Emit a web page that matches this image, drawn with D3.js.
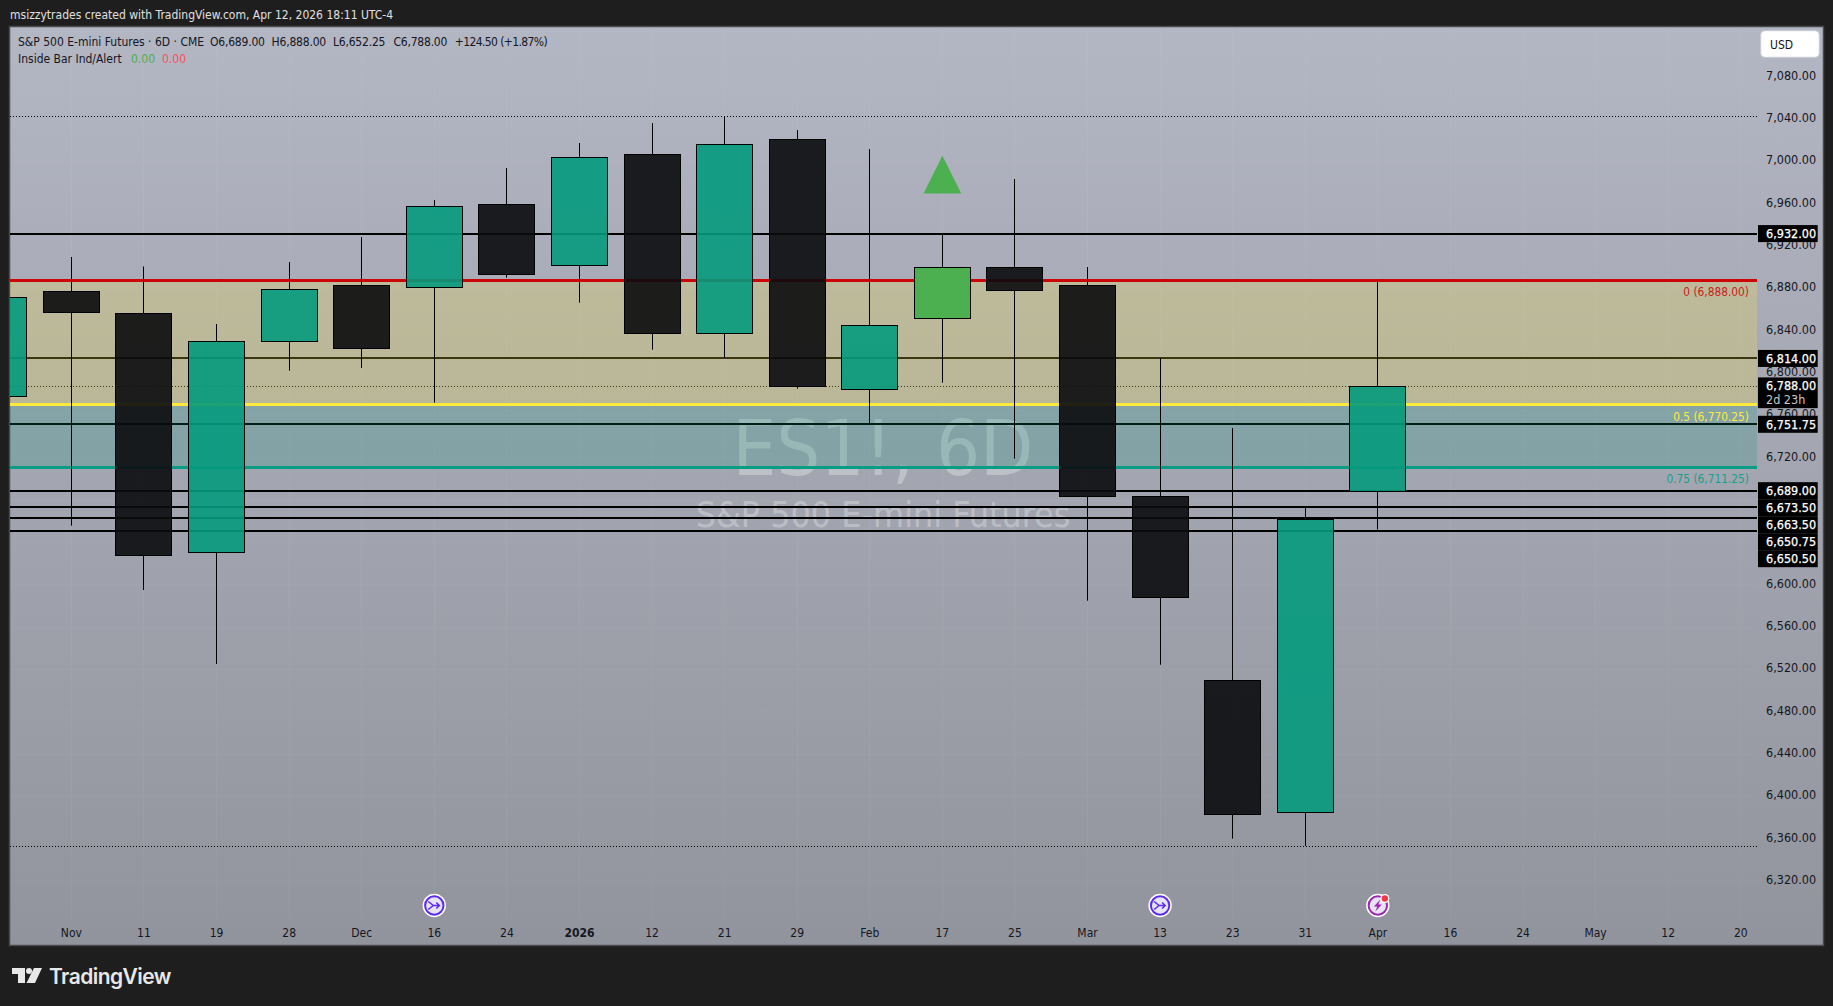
<!DOCTYPE html>
<html><head><meta charset="utf-8">
<script src="https://cdn.jsdelivr.net/npm/d3@7"></script>
<style>
html,body{margin:0;padding:0;background:#1e1e1e;overflow:hidden}
svg{display:block}
text{font-family:"DejaVu Sans Condensed","DejaVu Sans",sans-serif;font-stretch:condensed}
</style></head><body>
<svg id="c" width="1833" height="1006"></svg>
<script>
const barIndex=[-1,0,1,2,3,4,5,6,7,8,9,10,11,12,13,14,15,16,17,18];
const opens =[6778.2,6877.4,6856.7,6630.8,6830.2,6883.1,6881.8,6959.7,6902.0,7006.9,6838.3,7021.4,6785.4,6851.9,6900.1,6883.1,6683.7,6509.8,6385.0,6689.0];
const closes=[6871.8,6857.6,6627.9,6830.2,6879.3,6824.1,6957.8,6893.5,7004.1,6837.7,7016.4,6788.2,6845.3,6900.1,6878.4,6684.3,6588.2,6383.1,6662.5,6788.0];
const highs =[6871.8,6909.9,6900.9,6846.5,6905.1,6928.8,6963.7,6994.0,7017.6,7036.5,7042.9,7029.9,7011.9,6930.9,6983.6,6900.4,6814.4,6748.2,6672.9,6888.0];
const lows  =[6778.2,6655.9,6595.1,6525.2,6802.4,6805.0,6772.2,6890.3,6866.7,6822.2,6814.4,6785.4,6752.3,6791.1,6719.2,6585.0,6524.5,6360.1,6353.2,6652.25];
const insideBarIndex=12;
const signalBase=6970, signalApex=7005.5;
const timeLabels=["Nov","11","19","28","Dec","16","24","2026","12","21","29","Feb","17","25","Mar","13","23","31","Apr","16","24","May","12","20"];
const priceTicks=[7080,7040,7000,6960,6920,6880,6840,6800,6760,6720,6600,6560,6520,6480,6440,6400,6360,6320];
const gridTicks=[7080,7040,7000,6960,6920,6880,6840,6800,6760,6720,6680,6640,6600,6560,6520,6480,6440,6400,6360,6320];
const levels=[6932,6814,6788,6751.75,6689,6673.5,6663.5,6650.75,6650.5];
const solidLevels=[6932,6814,6751.75,6689,6673.5,6663.5,6650.75,6650.5];
const dottedLevels=[7043,6788,6353];
const fibLevels=[6888,6770.25,6711.25];
const fibNames=["0","0.5","0.75"];
const fibColors=["#cc0606","#ffe93b","#0a9c84"];
const fibTextColors=["#c81a1a","#ffe93b","#16a08a"];
const eventBars=[5,15];
const flashBars=[18];
const legendParts=["S&P 500 E-mini Futures · 6D · CME","O6,689.00","H6,888.00","L6,652.25","C6,788.00","+124.50 (+1.87%)"];
const legendX=[18,210,271.6,333,393.4,454.7];

const svg=d3.select("#c");
const L=10,T=27,R=1823,B=945,PR=1757,TA=918;
const y=d3.scaleLinear().domain([7080,6320]).range([77,881.08]);
const x=d3.scaleLinear().domain([0,23]).range([71.4,1740.74]);
const fmt=d3.format(",.2f");
const px=b=>Math.floor(x(b))+.5;

const defs=svg.append("defs");
const g=defs.append("linearGradient").attr("id","bg").attr("x1",0).attr("x2",0).attr("y1",0).attr("y2",1);
g.append("stop").attr("offset",0).attr("stop-color","#b3b6c3");
g.append("stop").attr("offset",1).attr("stop-color","#92949d");
defs.append("clipPath").attr("id","pane").append("rect").attr("x",L).attr("y",T).attr("width",PR-L).attr("height",TA-T);

svg.append("rect").attr("x",L-.5).attr("y",T-.5).attr("width",R-L+1).attr("height",B-T+1).attr("fill","url(#bg)").attr("stroke","#4a4a4a").attr("stroke-width",1.5);

// grid
const grid=svg.append("g").attr("stroke","rgba(255,255,255,0.045)").attr("stroke-width",1);
grid.selectAll("line.v").data(timeLabels).join("line").attr("x1",(d,i)=>px(i)).attr("x2",(d,i)=>px(i)).attr("y1",T).attr("y2",TA);
grid.selectAll("line.h").data(gridTicks).join("line").attr("x1",L).attr("x2",PR).attr("y1",d=>y(d)).attr("y2",d=>y(d));

// watermark
const wm=svg.append("g").attr("fill","rgba(255,255,255,0.3)").attr("text-anchor","middle");
wm.append("text").attr("x",883).attr("y",475).attr("font-size",77).text("ES1!, 6D");
wm.append("text").attr("x",883).attr("y",527).attr("font-size",35.5).text("S&P 500 E-mini Futures");

const pane=svg.append("g").attr("clip-path","url(#pane)");

// solid + dotted levels
pane.selectAll("line.s").data(solidLevels).join("line").attr("x1",L).attr("x2",PR).attr("y1",d=>Math.round(y(d))).attr("y2",d=>Math.round(y(d))).attr("stroke","#000").attr("stroke-width",2);
pane.selectAll("line.d").data(dottedLevels).join("line").attr("x1",L).attr("x2",PR).attr("y1",d=>Math.round(y(d))+.5).attr("y2",d=>Math.round(y(d))+.5).attr("stroke","#000").attr("stroke-width",1).attr("stroke-dasharray","1 2");

// fib bands
pane.append("rect").attr("x",L).attr("width",PR-L).attr("y",y(fibLevels[0])).attr("height",y(fibLevels[1])-y(fibLevels[0])).attr("fill","rgba(255,235,59,0.23)");
pane.append("rect").attr("x",L).attr("width",PR-L).attr("y",y(fibLevels[1])).attr("height",y(fibLevels[2])-y(fibLevels[1])).attr("fill","rgba(0,150,120,0.2)");
pane.selectAll("line.f").data(fibLevels).join("line").attr("x1",L).attr("x2",PR).attr("y1",d=>Math.round(y(d)-1.5)+1.5).attr("y2",d=>Math.round(y(d)-1.5)+1.5).attr("stroke",(d,i)=>fibColors[i]).attr("stroke-width",3);

// candles
const bars=barIndex.map((b,i)=>({b,o:opens[i],c:closes[i],h:highs[i],l:lows[i]}));
const half=28;
const bodyTop=d=>Math.round(y(Math.max(d.o,d.c)))+.5, bodyBot=d=>Math.round(y(Math.min(d.o,d.c)))+.5;
const cg=pane.selectAll("g.bar").data(bars).join("g");
cg.append("line").attr("x1",d=>px(d.b)).attr("x2",d=>px(d.b)).attr("y1",d=>y(d.h)).attr("y2",bodyTop).attr("stroke","#000");
cg.append("line").attr("x1",d=>px(d.b)).attr("x2",d=>px(d.b)).attr("y1",bodyBot).attr("y2",d=>y(d.l)).attr("stroke","#000");
cg.append("rect").attr("x",d=>px(d.b)-half).attr("width",half*2).attr("y",bodyTop).attr("height",d=>bodyBot(d)-bodyTop(d))
  .attr("fill",d=>d.b===insideBarIndex?"#4caf50":(d.c>=d.o?"#049a7d":"#0a0b0d")).attr("fill-opacity",d=>d.b===insideBarIndex?1:.9).attr("stroke","#000").attr("stroke-width",1);

// inside-bar signal
const tri=d3.line().x(d=>x(d[0])).y(d=>y(d[1]));
pane.append("path").attr("d",tri([[insideBarIndex,signalApex],[insideBarIndex+.26,signalBase],[insideBarIndex-.26,signalBase]])+"Z").attr("fill","#4caf50");

// price axis
const pa=svg.append("g").attr("transform",`translate(1759,-1.2)`).call(d3.axisRight(y).offset(0).tickValues(priceTicks).tickSize(0).tickPadding(7).tickFormat(fmt));
pa.select(".domain").remove();
pa.attr("font-family",null);
pa.selectAll("text").attr("fill","#131722").attr("font-size",12.5);

// time axis
const ta=svg.append("g").attr("transform","translate(0,928)").call(d3.axisBottom(x).offset(0).tickValues(d3.range(timeLabels.length)).tickSize(0).tickPadding(0).tickFormat(i=>timeLabels[i]));
ta.select(".domain").remove();
ta.attr("font-family",null);
ta.selectAll("text").attr("fill","#131722").attr("font-size",12).attr("font-weight",i=>timeLabels[i]==="2026"?700:400);

// fib labels
const fl=[291.7-y(fibLevels[0]),417-y(fibLevels[1]),479-y(fibLevels[2])];
svg.selectAll("text.fib").data(fibLevels).join("text").attr("class","fib").attr("x",1749).attr("y",(d,i)=>y(d)+fl[i]).attr("dy","0.35em").attr("text-anchor","end").attr("font-size",11.8).attr("fill",(d,i)=>fibTextColors[i]).text((d,i)=>`${fibNames[i]} (${fmt(d)})`);

// price labels on axis (pushed down so that they do not overlap)
let lastY=-1e9;
levels.forEach(v=>{
  const extra=v===6788;
  const h=extra?30.7:17;
  const t=Math.max(y(v)-8.5,lastY);
  svg.append("rect").attr("x",1758).attr("y",t).attr("width",59.7).attr("height",h).attr("fill","#000");
  svg.append("text").attr("x",1766).attr("y",t+8.5).attr("dy","0.35em").attr("font-size",12.5).attr("fill","#fff").attr("stroke","#fff").attr("stroke-width",.25).text(fmt(v));
  if(extra) svg.append("text").attr("x",1766).attr("y",t+22.5).attr("dy","0.35em").attr("font-size",12.5).attr("fill","#c8c8c8").text("2d 23h");
  lastY=t+h;
});

// USD button
svg.append("rect").attr("x",1760.7).attr("y",30.7).attr("width",58.6).attr("height",26.6).attr("rx",4).attr("fill","#fff").attr("stroke","#c9ccd4");
svg.append("text").attr("x",1770).attr("y",44.3).attr("dy","0.35em").attr("font-size",12).attr("fill","#131722").text("USD");

// event icons
const iconY=905.5;
function icon(b,col){const g=svg.append("g").attr("transform",`translate(${x(b)},${iconY})`);
  g.append("circle").attr("r",11.7).attr("fill","#fff");
  g.append("circle").attr("r",9.2).attr("fill","#e6e3f2").attr("stroke",col).attr("stroke-width",2);return g;}
eventBars.forEach(b=>{const g=icon(b,"#5b2bf5");
  g.append("path").attr("d","M-6,-4 L-1,0 L5,0 M-6,4 L-1,0 M2,-3 L5,0 L2,3").attr("fill","none").attr("stroke","#5b2bf5").attr("stroke-width",1.6);});
flashBars.forEach(b=>{const g=icon(b,"#9c27b0");
  g.append("path").attr("d","M2.5,-6 L-4,1 L-0.5,1 L-2.5,6 L4,-1 L0.5,-1 Z").attr("fill","#9c27b0");
  g.append("circle").attr("cx",7).attr("cy",-7).attr("r",4.5).attr("fill","#fff");
  g.append("circle").attr("cx",7).attr("cy",-7).attr("r",3.2).attr("fill","#f23645");});

// header + legend
svg.append("text").attr("x",10).attr("y",15).attr("dy","0.35em").attr("font-size",12).attr("fill","#e0e0e0").text("msizzytrades created with TradingView.com, Apr 12, 2026 18:11 UTC-4");
svg.selectAll("text.lg").data(legendParts).join("text").attr("class","lg").attr("x",(d,i)=>legendX[i]).attr("y",42).attr("dy","0.35em").attr("font-size",12).attr("letter-spacing",(d,i)=>i===5?-.6:(i>0?-.2:0)).attr("fill","#131722").text(d=>d);
svg.append("text").attr("x",18).attr("y",59).attr("dy","0.35em").attr("font-size",12).attr("fill","#131722").text("Inside Bar Ind/Alert");
svg.append("text").attr("x",131).attr("y",59).attr("dy","0.35em").attr("font-size",12).attr("fill","#4caf50").text("0.00");
svg.append("text").attr("x",162).attr("y",59).attr("dy","0.35em").attr("font-size",12).attr("fill","#f7525f").text("0.00");

// logo
const lg=svg.append("g").attr("transform","translate(12,968)").attr("fill","#e8e8e8");
lg.append("path").attr("d","M0,0 H13 V15 H6 V6 H0 Z");
lg.append("circle").attr("cx",17).attr("cy",3).attr("r",3);
lg.append("path").attr("d","M22,0 H30 L23,15 H14.5 Z");
svg.append("text").attr("x",49).attr("y",977).attr("dy","0.35em").attr("font-size",21).attr("font-weight",600).style("font-family","Inter,sans-serif").style("font-stretch","normal").attr("letter-spacing",-.55).attr("fill","#e8e8e8").text("TradingView");
</script>
</body></html>
